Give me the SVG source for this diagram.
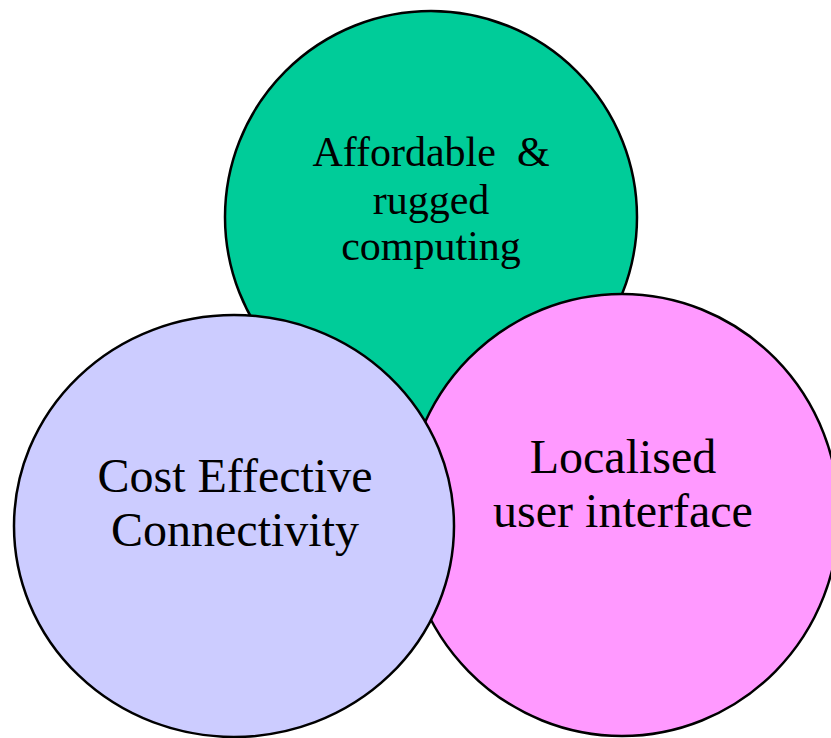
<svg xmlns="http://www.w3.org/2000/svg" width="831" height="738" viewBox="0 0 831 738">
  <style>
    .bubble { stroke: #000000; stroke-width: 2.5; }
    .label { font-family: "Liberation Serif", "Times New Roman", serif; fill: #000000; text-anchor: middle; }
    .small { font-size: 42px; }
    .large { font-size: 48px; }
  </style>
  <rect width="831" height="738" fill="#ffffff"/>
  <g id="computing">
    <circle class="bubble" cx="431" cy="217" r="206" fill="#00CC99"/>
    <text class="label small" xml:space="preserve"><tspan x="431" y="166">Affordable  &amp;</tspan><tspan x="431" y="214">rugged</tspan><tspan x="431" y="260">computing</tspan></text>
  </g>
  <g id="interface">
    <ellipse class="bubble" cx="622" cy="515" rx="217" ry="221" fill="#FF99FF"/>
    <text class="label large"><tspan x="623" y="473">Localised</tspan><tspan x="623" y="527">user interface</tspan></text>
  </g>
  <g id="connectivity">
    <ellipse class="bubble" cx="234" cy="526" rx="220" ry="211" fill="#CCCCFF"/>
    <text class="label large"><tspan x="235" y="492">Cost Effective</tspan><tspan x="235" y="546">Connectivity</tspan></text>
  </g>
  <g id="connectors"/>
</svg>
